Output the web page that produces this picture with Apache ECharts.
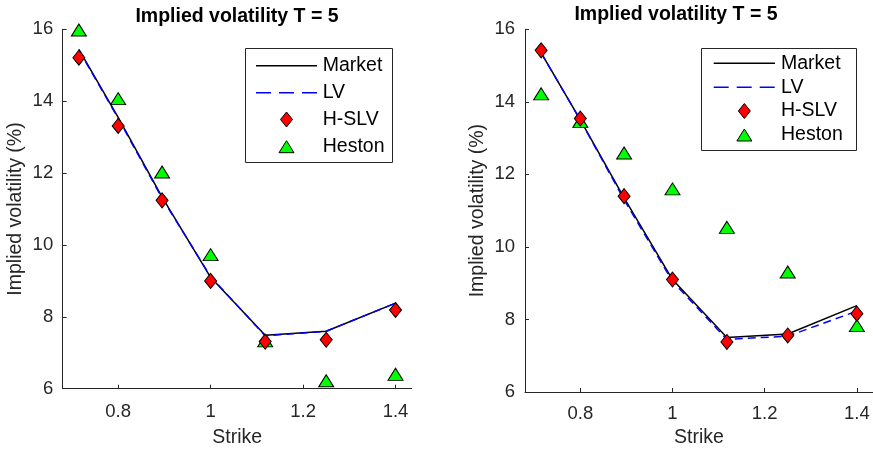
<!DOCTYPE html>
<html>
<head>
<meta charset="utf-8">
<script src="https://cdn.jsdelivr.net/npm/echarts@6/dist/echarts.min.js"></script>
<style>
  html, body { margin: 0; padding: 0; background: #fff; }
  #chart { width: 873px; height: 453px; }
</style>
</head>
<body>
<div id="chart"></div>
<script>
// Strikes shared by both panels
const strikes = [0.715, 0.8, 0.895, 1.0, 1.118, 1.25, 1.4];
const xTicks = [0.8, 1.0, 1.2, 1.4];
const legendNames = ['Market', 'LV', 'H-SLV', 'Heston'];

// Left panel: implied volatilities (%)
const marketL = [15.44, 13.55, 11.33, 9.10, 7.49, 7.60, 8.38];
const lvL     = [15.42, 13.52, 11.30, 9.12, 7.47, 7.60, 8.38];
const hslvL   = [15.21, 13.31, 11.24, 9.00, 7.31, 7.36, 8.19];
const hestonL = [15.98, 14.07, 12.03, 9.73, 7.33, 6.22, 6.40];

// Right panel: implied volatilities (%)
const marketR = [15.35, 13.50, 11.35, 9.10, 7.50, 7.60, 8.38];
const lvR     = [15.35, 13.50, 11.30, 9.05, 7.45, 7.54, 8.23];
const hslvR   = [15.42, 13.54, 11.40, 9.10, 7.38, 7.56, 8.16];
const hestonR = [14.22, 13.46, 12.59, 11.60, 10.54, 9.31, 7.83];

const FONT = "'Liberation Sans', Arial, Helvetica, sans-serif";
const AX = '#262626';
const TXT = 19.5;
const TICK = 18.5;
const pairs = (ys) => strikes.map((k, i) => [k, ys[i]]);

function xAxis(gridIndex, labelMargin, nameGap) {
  return {
    gridIndex, type: 'value', min: 0.68, max: 1.435,
    name: 'Strike', nameLocation: 'middle', nameGap,
    nameTextStyle: { fontFamily: FONT, fontSize: TXT, color: AX },
    axisLine: { onZero: false, lineStyle: { color: AX, width: 1 } },
    axisTick: { inside: true, length: 4, customValues: xTicks, lineStyle: { color: AX } },
    axisLabel: { customValues: xTicks, margin: labelMargin, fontFamily: FONT, fontSize: TICK, color: AX },
    splitLine: { show: false }
  };
}
function yAxis(gridIndex, nameGap, labelMargin) {
  return {
    gridIndex, type: 'value', min: 6, max: 16, interval: 2,
    name: 'Implied volatility (%)', nameLocation: 'middle', nameGap,
    nameTextStyle: { fontFamily: FONT, fontSize: TXT, color: AX },
    axisLine: { show: true, onZero: false, lineStyle: { color: AX, width: 1 } },
    axisTick: { show: true, inside: true, length: 4, lineStyle: { color: AX } },
    axisLabel: { margin: labelMargin, fontFamily: FONT, fontSize: TICK, color: AX },
    splitLine: { show: false }
  };
}
function seriesFor(idx, market, lv, hslv, heston) {
  return [
    { name: 'Market', type: 'line', xAxisIndex: idx, yAxisIndex: idx, data: pairs(market),
      symbol: 'none', lineStyle: { color: '#000', width: 1.5 }, itemStyle: { color: '#000' }, z: 2 },
    { name: 'LV', type: 'line', xAxisIndex: idx, yAxisIndex: idx, data: pairs(lv),
      symbol: 'none', lineStyle: { color: '#0000ff', width: 1.5, type: [8, 5] }, itemStyle: { color: '#0000ff' }, z: 3 },
    { name: 'Heston', type: 'scatter', xAxisIndex: idx, yAxisIndex: idx, data: pairs(heston),
      symbol: 'triangle', symbolSize: [15, 12],
      itemStyle: { color: '#00ff00', borderColor: '#000', borderWidth: 1, opacity: 1 }, z: 4 },
    { name: 'H-SLV', type: 'scatter', xAxisIndex: idx, yAxisIndex: idx, data: pairs(hslv),
      symbol: 'diamond', symbolSize: [12, 15],
      itemStyle: { color: '#ff0000', borderColor: '#000', borderWidth: 1, opacity: 1 }, z: 5 }
  ];
}

// Boxed legend: line samples for the curves, marker samples for the model points
function legendBox(box, rowsY, sx0, sx1, textX) {
  const mx = (sx0 + sx1) / 2;
  const kids = [{
    type: 'rect',
    shape: { x: box.x + 0.5, y: box.y + 0.5, width: box.w, height: box.h },
    style: { fill: '#fff', stroke: AX, lineWidth: 1 }
  }];
  const [yM, yL, yD, yT] = rowsY;
  kids.push({ type: 'line', shape: { x1: sx0, y1: yM, x2: sx1, y2: yM },
    style: { stroke: '#000', lineWidth: 1.5 } });
  kids.push({ type: 'line', shape: { x1: sx0, y1: yL, x2: sx1, y2: yL },
    style: { stroke: '#0000ff', lineWidth: 1.5, lineDash: [15, 8] } });
  kids.push({ type: 'polygon',
    shape: { points: [[mx, yD - 7.5], [mx + 6, yD], [mx, yD + 7.5], [mx - 6, yD]] },
    style: { fill: '#ff0000', stroke: '#000', lineWidth: 1 } });
  kids.push({ type: 'polygon',
    shape: { points: [[mx, yT - 6], [mx + 7.5, yT + 6], [mx - 7.5, yT + 6]] },
    style: { fill: '#00ff00', stroke: '#000', lineWidth: 1 } });
  rowsY.forEach((y, i) => kids.push({
    type: 'text',
    style: { text: legendNames[i], x: textX, y, font: TXT + 'px ' + FONT, fill: '#000',
      textAlign: 'left', verticalAlign: 'middle' }
  }));
  return { type: 'group', z: 100, children: kids };
}

const chart = echarts.init(document.getElementById('chart'), null, { renderer: 'canvas' });
chart.setOption({
  animation: false,
  backgroundColor: '#fff',
  title: [
    { text: 'Implied volatility T = 5', left: 237, top: 6.5, textAlign: 'center', padding: 0,
      textStyle: { fontFamily: FONT, fontSize: 19.5, fontWeight: 'bold', color: '#000' } },
    { text: 'Implied volatility T = 5', left: 676, top: 5, textAlign: 'center', padding: 0,
      textStyle: { fontFamily: FONT, fontSize: 19.5, fontWeight: 'bold', color: '#000' } }
  ],
  grid: [
    { left: 62.7, top: 29.3, width: 349, height: 359.4 },
    { left: 525, top: 29.3, width: 350.7, height: 365.7 }
  ],
  xAxis: [xAxis(0, 14, 39), xAxis(1, 12, 36)],
  yAxis: [yAxis(0, 37.2, 9.5), yAxis(1, 37, 10)],
  series: [].concat(
    seriesFor(0, marketL, lvL, hslvL, hestonL),
    seriesFor(1, marketR, lvR, hslvR, hestonR)
  ),
  graphic: [
    legendBox({ x: 245, y: 48, w: 147, h: 114 }, [65.7, 92.7, 119.5, 146.7], 256, 317, 322.7),
    legendBox({ x: 701, y: 48, w: 155, h: 102 }, [63.3, 87.3, 111, 135], 713.7, 775, 781)
  ]
});
</script>
</body>
</html>
